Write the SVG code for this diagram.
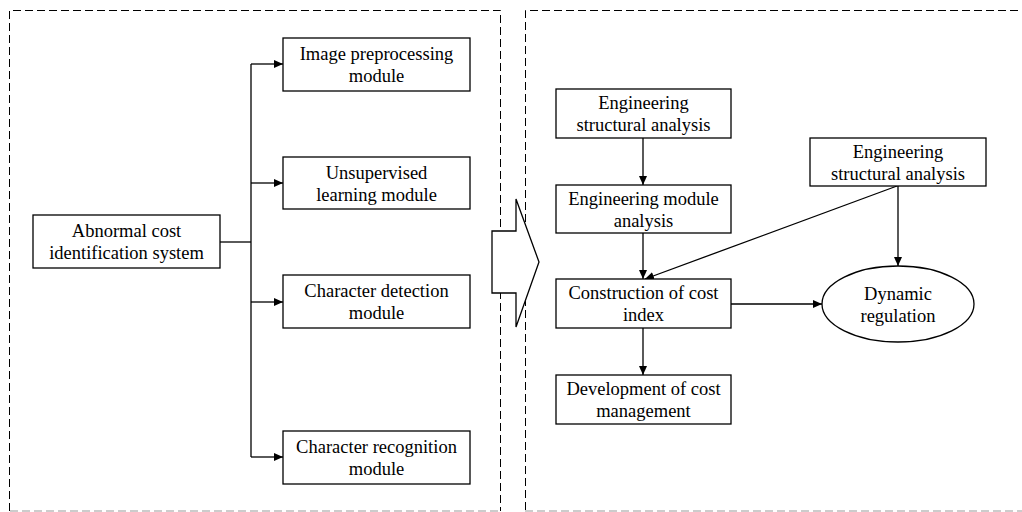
<svg xmlns="http://www.w3.org/2000/svg" width="1022" height="512" viewBox="0 0 1022 512">
<style>
.box{fill:#fff;stroke:#000;stroke-width:1.3}
.frame{fill:none;stroke:#000;stroke-width:1;stroke-dasharray:8,4}
.frameb{fill:none;stroke:#999;stroke-width:1.2;stroke-dasharray:8,4}
.t{font-family:"Liberation Serif","Times New Roman",serif;font-size:18.5px;fill:#000;text-anchor:middle}
.c{fill:none;stroke:#000;stroke-width:1.3}
</style>
<defs>
<marker id="ah" markerWidth="10" markerHeight="8" refX="9" refY="4" orient="auto" markerUnits="userSpaceOnUse">
<path d="M0,0 L9,4 L0,8 Z" fill="#000"/>
</marker>
</defs>
<rect width="1022" height="512" fill="#fff"/>
<g id="frames">
<path class="frame" d="M9.5,511 L9.5,10.5 L500.5,10.5 L500.5,511"/>
<path class="frameb" d="M10,511 L500,511"/>
<path class="frame" d="M1030,10.5 L525.5,10.5 L525.5,511"/>
<path class="frameb" d="M525,511 L1022,511"/>
</g>
<g id="bigarrow">
<polygon points="492,231 516,231 516,199 539,262 516,327 516,293 492,293" fill="#fff" stroke="#000" stroke-width="1.3"/>
</g>
<g id="connectors">
<path class="c" d="M220,242 L251,242"/>
<path class="c" d="M251,64 L251,457"/>
<path class="c" d="M251,64 L283,64" marker-end="url(#ah)"/>
<path class="c" d="M251,183 L283,183" marker-end="url(#ah)"/>
<path class="c" d="M251,302 L283,302" marker-end="url(#ah)"/>
<path class="c" d="M251,457 L283,457" marker-end="url(#ah)"/>
<path class="c" d="M643,138 L643,185" marker-end="url(#ah)"/>
<path class="c" d="M643,233 L643,279" marker-end="url(#ah)"/>
<path class="c" d="M897,186 L645,279" marker-end="url(#ah)"/>
<path class="c" d="M898,186 L898,266" marker-end="url(#ah)"/>
<path class="c" d="M731,304 L822,304" marker-end="url(#ah)"/>
<path class="c" d="M643,328 L643,375" marker-end="url(#ah)"/>
</g>
<g id="n-abnormal">
<rect class="box" x="33" y="215" width="187" height="53"/>
<text class="t" x="126.5" y="237">Abnormal cost</text>
<text class="t" x="126.5" y="259">identification system</text>
</g>
<g id="n-image">
<rect class="box" x="283" y="38" width="187" height="53"/>
<text class="t" x="376.5" y="60">Image preprocessing</text>
<text class="t" x="376.5" y="82">module</text>
</g>
<g id="n-unsupervised">
<rect class="box" x="283" y="157" width="187" height="52"/>
<text class="t" x="376.5" y="178.5">Unsupervised</text>
<text class="t" x="376.5" y="200.5">learning module</text>
</g>
<g id="n-detection">
<rect class="box" x="283" y="275" width="187" height="53"/>
<text class="t" x="376.5" y="297">Character detection</text>
<text class="t" x="376.5" y="319">module</text>
</g>
<g id="n-recognition">
<rect class="box" x="283" y="431" width="187" height="53"/>
<text class="t" x="376.5" y="453">Character recognition</text>
<text class="t" x="376.5" y="475">module</text>
</g>
<g id="n-esa1">
<rect class="box" x="556" y="89" width="175" height="49"/>
<text class="t" x="643.5" y="109">Engineering</text>
<text class="t" x="643.5" y="131">structural analysis</text>
</g>
<g id="n-ema">
<rect class="box" x="556" y="185" width="175" height="48"/>
<text class="t" x="643.5" y="204.5">Engineering module</text>
<text class="t" x="643.5" y="226.5">analysis</text>
</g>
<g id="n-cci">
<rect class="box" x="556" y="279" width="175" height="49"/>
<text class="t" x="643.5" y="299">Construction of cost</text>
<text class="t" x="643.5" y="321">index</text>
</g>
<g id="n-dev">
<rect class="box" x="556" y="375" width="175" height="49"/>
<text class="t" x="643.5" y="395">Development of cost</text>
<text class="t" x="643.5" y="417">management</text>
</g>
<g id="n-esa2">
<rect class="box" x="810" y="138" width="176" height="48"/>
<text class="t" x="898" y="157.5">Engineering</text>
<text class="t" x="898" y="179.5">structural analysis</text>
</g>
<g id="n-dynamic">
<ellipse class="box" cx="898" cy="304" rx="76" ry="38"/>
<text class="t" x="898" y="299.5">Dynamic</text>
<text class="t" x="898" y="321.5">regulation</text>
</g>
</svg>
